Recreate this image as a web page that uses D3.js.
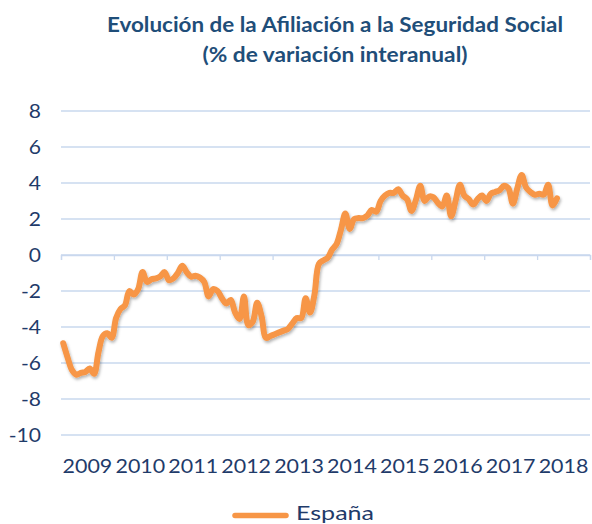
<!DOCTYPE html>
<html><head><meta charset="utf-8">
<script src="https://cdn.jsdelivr.net/npm/d3@7"></script>
<style>body{margin:0;background:#fff}svg{display:block}</style>
</head><body>
<script>
const years = ["2009","2010","2011","2012","2013","2014","2015","2016","2017","2018"];
const yTicks = [8,6,4,2,0,-2,-4,-6,-8,-10];
const seriesName = "España";
const titleLines = ["Evolución de la Afiliación a la Seguridad Social","(% de variación interanual)"];
// monthly year-on-year variation, Jan 2009 onward
const espana = [
 -4.9,-5.7,-6.4,-6.65,-6.55,-6.5,-6.3,-6.6,-5.4,-4.5,-4.35,-4.6,
 -3.5,-3.0,-2.8,-2.0,-2.2,-1.9,-0.95,-1.5,-1.35,-1.3,-1.2,-0.95,
 -1.4,-1.3,-1.0,-0.6,-0.95,-1.2,-1.15,-1.25,-1.5,-2.3,-1.9,-2.0,
 -2.4,-2.7,-2.5,-3.2,-3.55,-2.3,-3.9,-3.7,-2.65,-3.4,-4.6,-4.5,
 -4.4,-4.3,-4.2,-4.1,-3.8,-3.5,-3.5,-2.4,-3.2,-2.2,-0.5,-0.3,
 -0.15,0.3,0.6,1.4,2.3,1.45,2.0,2.05,2.05,2.2,2.5,2.4,
 3.0,3.3,3.45,3.45,3.65,3.3,3.1,2.45,3.05,3.85,3.0,3.25,
 3.2,2.9,2.7,3.3,2.15,3.0,3.9,3.3,3.1,2.8,3.1,3.3,
 3.0,3.4,3.5,3.6,3.85,3.7,2.85,3.7,4.45,3.75,3.5,3.35,
 3.4,3.35,3.9,2.75,3.15
];

const W=592,H=524;
const svg=d3.select("body").append("svg").attr("width",W).attr("height",H);
const defs=svg.append("defs");
const f=defs.append("filter").attr("id","sh").attr("x","-10%").attr("y","-10%").attr("width","120%").attr("height","130%");
f.append("feDropShadow").attr("dx",1).attr("dy",2).attr("stdDeviation",1.6).attr("flood-color","#000").attr("flood-opacity",0.3);

const font="Lato, 'Open Sans', sans-serif";
const blue="#1F3B6A";
const x=d3.scaleLinear().domain([0,years.length*12]).range([61,590]);
const y=d3.scaleLinear().domain([-10,8]).range([435,111]);

function widen(sel,k){
  sel.each(function(){const L=this.getComputedTextLength();
    d3.select(this).attr("textLength",L*k).attr("lengthAdjust","spacingAndGlyphs");});
}

// gridlines
svg.append("g").selectAll("line").data(yTicks).join("line")
 .attr("x1",x.range()[0]).attr("x2",x.range()[1])
 .attr("y1",d=>y(d)).attr("y2",d=>y(d))
 .attr("stroke","#C9D8EE").attr("stroke-width",1.3);

// x axis at 0 with tick marks
const xAxis=d3.axisBottom(x).tickValues(d3.range(0,years.length*12+1,12)).tickSize(5).tickFormat("");
const gx=svg.append("g").attr("transform",`translate(0,${y(0)})`).call(xAxis);
gx.selectAll("path,line").attr("stroke","#C9D8EE").attr("stroke-width",1.3);

// y labels
const yAxis=d3.axisLeft(y).tickValues(yTicks).tickSize(0).tickPadding(0).tickFormat(d=>String(d));
const gy=svg.append("g").attr("transform","translate(41,0)").call(yAxis);
gy.select(".domain").remove();
gy.selectAll("text").attr("font-family",font).attr("font-size",19.5).attr("fill",blue).attr("dy","0.35em").call(widen,1.08);

// year labels
svg.append("g").selectAll("text").data(years).join("text")
 .attr("x",(d,i)=>x(i*12+6)).attr("y",473)
 .attr("text-anchor","middle").attr("font-family",font).attr("font-size",19.5).attr("fill",blue).text(d=>d)
 .call(widen,1.1);

// line
const line=d3.line().x((d,i)=>x(i+0.5)).y(d=>y(d)).curve(d3.curveCatmullRom.alpha(0.5));
svg.append("path").datum(espana).attr("d",line).attr("fill","none")
 .attr("stroke","#F79646").attr("stroke-width",6).attr("stroke-linejoin","round").attr("stroke-linecap","round")
 .attr("filter","url(#sh)");

// title
const tw=[456,265];
svg.append("g").selectAll("text").data(titleLines).join("text")
 .attr("x",335).attr("y",(d,i)=>32+i*30).attr("text-anchor","middle")
 .attr("textLength",(d,i)=>tw[i]).attr("lengthAdjust","spacingAndGlyphs")
 .attr("font-family",font).attr("font-weight","bold").attr("font-size",20).attr("fill","#1F4E79").text(d=>d);

// legend
const lg=svg.append("g");
lg.append("line").attr("x1",235).attr("x2",286).attr("y1",515.5).attr("y2",515.5)
 .attr("stroke","#F79646").attr("stroke-width",5.5).attr("stroke-linecap","round");
lg.append("text").attr("x",296).attr("y",520).attr("textLength",78).attr("lengthAdjust","spacingAndGlyphs")
 .attr("font-family",font).attr("font-size",20).attr("fill",blue).text(seriesName);
</script>
</body></html>
